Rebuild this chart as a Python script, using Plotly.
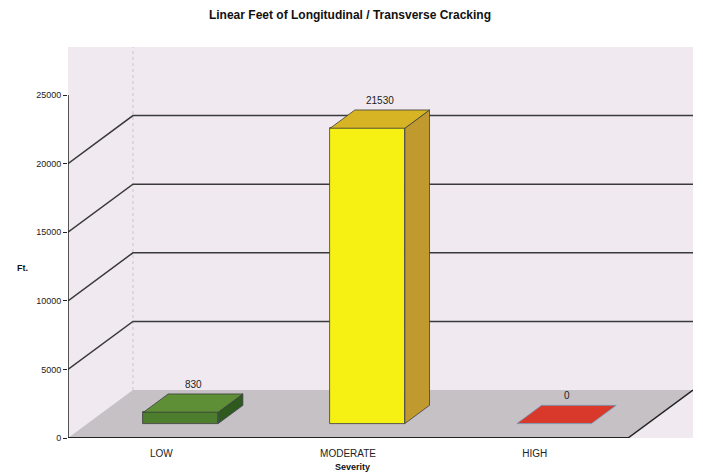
import plotly.graph_objects as go

# Data
categories = ["LOW", "MODERATE", "HIGH"]
values = [830, 21530, 0]
value_labels = ["830", "21530", "0"]
y_ticks = [0, 5000, 10000, 15000, 20000, 25000]

# Styling
front_colors = ["#4c7e2d", "#f7f013", "#d8392a"]
top_colors = ["#5e8f37", "#d6b424", "#d8392a"]
side_colors = ["#2f5a1e", "#c09a2e", "#a82a20"]

FONT = "Arial, Liberation Sans, sans-serif"

# Oblique 3-D projection parameters (in data units)
D = 0.348      # depth offset along x (category units)
H = 3500       # depth offset along y (value units)
f0, f1 = 0.30, 0.68   # bar front / back depth fractions
w = 0.2               # half bar width
YMAX = 28500
XMAX = len(categories) + D

fig = go.Figure()

shapes = []
# floor
shapes.append(dict(type="path", layer="below",
                   path=f"M 0 0 L {len(categories)} 0 L {len(categories)+D} {H} L {D} {H} Z",
                   fillcolor="#c6c1c5", line=dict(width=0)))
# left wall back edge
shapes.append(dict(type="line", layer="below", x0=D, x1=D, y0=H, y1=YMAX,
                   line=dict(color="#cbc3cf", width=1, dash="dot")))
# gridlines on side and back walls
for v in y_ticks[1:-1]:
    shapes.append(dict(type="path", layer="below",
                       path=f"M 0 {v} L {D} {v+H} L {XMAX} {v+H}",
                       line=dict(color="#3a3a3a", width=1.5)))
# floor front and right edges
shapes.append(dict(type="line", layer="below", x0=0, x1=len(categories), y0=0, y1=0,
                   line=dict(color="#222", width=2)))
shapes.append(dict(type="line", layer="below", x0=len(categories), x1=len(categories)+D,
                   y0=0, y1=H, line=dict(color="#222", width=1.5)))
# value axis line
shapes.append(dict(type="line", layer="below", x0=0, x1=0, y0=0, y1=y_ticks[-1],
                   line=dict(color="#222", width=1.5)))

dxb = (f1 - f0) * D
dyb = (f1 - f0) * H
y0 = f0 * H
annotations = []
for i, (cat, v) in enumerate(zip(categories, values)):
    xc = i + 0.5 + f0 * D
    y1 = y0 + v
    # front face
    if v > 0:
        fig.add_trace(go.Bar(x=[xc], y=[v], base=[y0], width=[2 * w],
                             marker=dict(color=front_colors[i],
                                         line=dict(color="#3b3b3b", width=0.8)),
                             hoverinfo="skip", showlegend=False))
        # right side face
        fig.add_trace(go.Scatter(
            x=[xc + w, xc + w, xc + w + dxb, xc + w + dxb, xc + w],
            y=[y0, y1, y1 + dyb, y0 + dyb, y0],
            fill="toself", fillcolor=side_colors[i], mode="lines",
            line=dict(color="#3b3b50", width=0.8), hoverinfo="skip", showlegend=False))
    # top face
    fig.add_trace(go.Scatter(
        x=[xc - w, xc + w, xc + w + dxb, xc - w + dxb, xc - w],
        y=[y1, y1, y1 + dyb, y1 + dyb, y1],
        fill="toself", fillcolor=top_colors[i], mode="lines",
        line=dict(color="#3b3b3b" if v > 0 else "#6f9fc0", width=0.8),
        hoverinfo="skip", showlegend=False))
    annotations.append(dict(x=xc + dxb / 2, y=y1 + dyb, text=value_labels[i],
                            showarrow=False, yanchor="bottom", yshift=2,
                            font=dict(family=FONT, size=10, color="#222")))

# axis titles
annotations.append(dict(xref="x domain", yref="y domain",
                        x=(22 - 68) / 625, y=(438 - 268) / 391,
                        xanchor="center", yanchor="middle",
                        text="<b>Ft.</b>", showarrow=False,
                        font=dict(family=FONT, size=9, color="#111")))
annotations.append(dict(xref="x domain", yref="y domain",
                        x=(352 - 68) / 625, y=-(467 - 438) / 391,
                        xanchor="center", yanchor="middle",
                        text="<b>Severity</b>", showarrow=False,
                        font=dict(family=FONT, size=9, color="#111")))

fig.update_layout(
    width=703, height=474,
    margin=dict(l=68, r=10, t=47, b=36),
    paper_bgcolor="white",
    plot_bgcolor="#f0eaf0",
    title=dict(text="<b>Linear Feet of Longitudinal / Transverse Cracking</b>",
               x=350 / 703, xanchor="center", y=1 - 15 / 474, yanchor="middle",
               font=dict(family=FONT, size=12, color="#111")),
    xaxis=dict(range=[0, XMAX], tickvals=[i + 0.5 for i in range(len(categories))],
               ticktext=categories, showgrid=False, zeroline=False, showline=False,
               ticks="", ticklabelstandoff=8,
               tickfont=dict(family=FONT, size=10, color="#222")),
    yaxis=dict(range=[0, YMAX], tickvals=y_ticks, ticktext=[str(t) for t in y_ticks],
               showgrid=False, zeroline=False, showline=False,
               ticks="outside", ticklen=4, tickcolor="#222",
               tickfont=dict(family=FONT, size=9, color="#222")),
    shapes=shapes,
    annotations=annotations,
    bargap=0,
)

fig.write_html("out.html")
